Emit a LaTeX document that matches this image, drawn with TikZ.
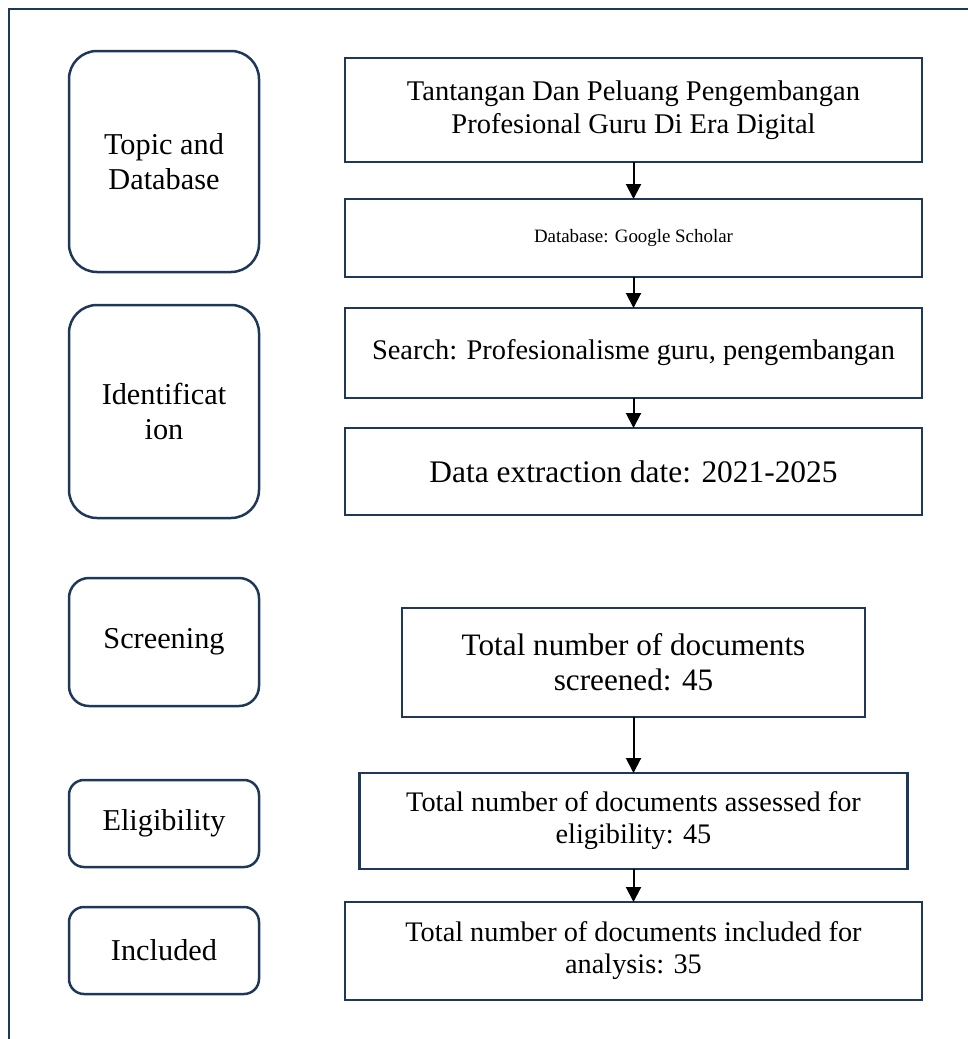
\documentclass[tikz,border=0pt]{standalone}
\usepackage{fontspec}
\setmainfont{Liberation Serif}
\usetikzlibrary{arrows.meta,positioning}
\definecolor{frameblue}{RGB}{31,56,90}
\tikzset{
    % arrow style
    >={Triangle[width=15pt, length=15pt]},
    % abstract base box style
    base/.style = {
        draw=frameblue, line width=2.5pt, outer sep=0pt,
        text centered, align=center, inner sep=0pt
    },
    % stage boxes (left column)
    stage/.style = {base, minimum width=190pt, font=\fontsize{30.3}{35}\selectfont},
    % step boxes (right column)
    stepbox/.style = {base, rectangle, minimum width=577pt},
    % connector style
    link/.style = {->, line width=2pt, black}
}

\begin{document}
\begin{tikzpicture}[x=1pt, y=-1pt]
        \useasboundingbox (0,0) rectangle (968,1039);
        % frame around the figure
        \draw[frameblue, line width=2.5pt] (9,1039) -- (9,9) -- (968,9);
        % place stage boxes
        \node[stage, rounded corners=28pt, minimum height=221pt] (topic) at (164,161.5) {Topic and\\Database};
        \node[stage, rounded corners=28pt, minimum height=213pt] (ident) at (164,411.5) {Identificat\\ion};
        \node[stage, rounded corners=20pt, minimum height=128pt] (screen) at (164,642) {Screening};
        \node[stage, rounded corners=15pt, minimum height=87pt] (elig) at (164,823.5) {Eligibility};
        \node[stage, rounded corners=15pt, minimum height=87pt] (incl) at (164,950.5) {Included};
        % place step boxes
        \node[stepbox, minimum height=104pt, font=\fontsize{28.5}{33}\selectfont] (title) at (633.5,110) {Tantangan Dan Peluang Pengembangan\\Profesional Guru Di Era Digital};
        \node[stepbox, minimum height=78pt, font=\fontsize{18.9}{22}\selectfont] (database) [below=37pt of title] {Database: Google Scholar};
        \node[stepbox, minimum height=90pt, font=\fontsize{28.4}{33}\selectfont] (search) [below=31pt of database] {Search: Profesionalisme guru, pengembangan};
        \node[stepbox, minimum height=87pt, font=\fontsize{31.4}{36}\selectfont] (extract) [below=30pt of search] {Data extraction date: 2021-2025};
        \node[stepbox, minimum width=463pt, minimum height=109pt, font=\fontsize{31.2}{35}\selectfont] (screened) [below=93pt of extract] {Total number of documents\\screened: 45};
        \node[stepbox, minimum width=548pt, minimum height=96pt, font=\fontsize{28.3}{32}\selectfont] (assessed) [below=56pt of screened] {Total number of documents assessed for\\eligibility: 45};
        \node[stepbox, minimum height=98pt, font=\fontsize{28.3}{32}\selectfont] (included) [below=33pt of assessed] {Total number of documents included for\\analysis: 35};
        % draw arrows between steps
        \path[link] (title) edge (database)
                    (database) edge (search)
                    (search) edge (extract)
                    (screened) edge (assessed)
                    (assessed) edge (included);
    \end{tikzpicture}
\end{document}
